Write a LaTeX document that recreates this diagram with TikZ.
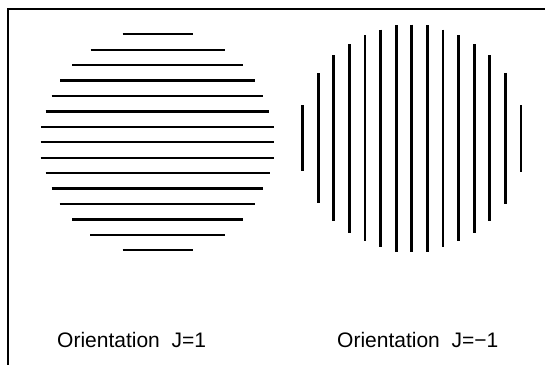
\documentclass[tikz,border=0pt]{standalone}
\usepackage{fontspec}
\setmainfont{Liberation Sans}
\usepackage{tikz}
\usetikzlibrary{positioning}

\tikzset{
  hline/.style={line width=2.2pt},
  vline/.style={line width=2.8pt},
  caption/.style={inner sep=0pt, anchor=base west, font=\fontsize{21}{25}\selectfont}
}

\begin{document}
\begin{tikzpicture}[x=1pt, y=-1pt]
  \useasboundingbox (0,0) rectangle (545,365);
  % frame
  \draw[line width=1.3pt] (545,9) -- (8,9) -- (8,365);
  % J=1 : horizontal stripes
  \foreach \k/\w in {-7/35, -6/67, -5/85.5, -4/97.5, -3/105.8, -2/111.8, -1/116.5, 0/116.8,
                     1/116.8, 2/112, 3/105.8, 4/97.8, 5/85.5, 6/67.3, 7/35}{
    \draw[hline] (157.5-\w, 142.3+15.43*\k) -- (157.5+\w, 142.3+15.43*\k);
  }
  % J=-1 : vertical stripes
  \foreach \k/\h in {-7/33, -6/65, -5/83, -4/94.3, -3/103, -2/108.8, -1/113.3, 0/113.8,
                     1/113.3, 2/108.8, 3/103, 4/94.3, 5/83, 6/65.5, 7/33.3}{
    \draw[vline] (411.8+15.6*\k, 138.3-\h) -- (411.8+15.6*\k, 138.3+\h);
  }
  % captions
  \node[caption] (capA) at (57,347.5) {Orientation~~J=1};
  \node[caption] (capB) at (337,347.5) {Orientation~~J=−1};
\end{tikzpicture}
\end{document}
